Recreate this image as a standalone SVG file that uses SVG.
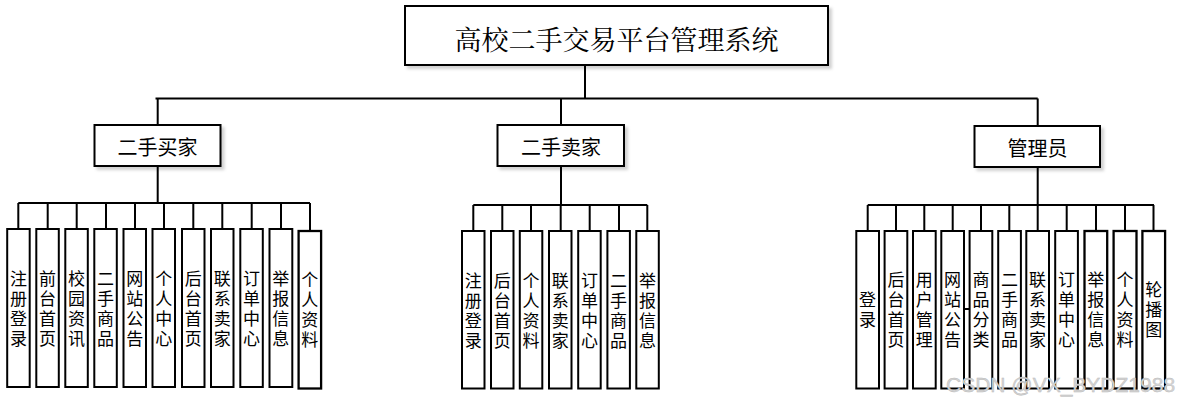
<svg xmlns="http://www.w3.org/2000/svg" width="1178" height="405" viewBox="0 0 1178 405">
<defs>
<filter id="sh" x="-10%" y="-10%" width="130%" height="140%">
<feDropShadow dx="3" dy="3" stdDeviation="1.5" flood-color="#000" flood-opacity="0.18"/>
</filter>
</defs>
<style>
.box{fill:#fff;stroke:#000;stroke-width:2}
.big{filter:url(#sh)}
.ln{stroke:#000;stroke-width:2;fill:none}
.t{font-family:"Noto Sans CJK SC","Liberation Sans",sans-serif;fill:#000;text-anchor:middle;dominant-baseline:central}
.title{font-family:"Noto Serif CJK SC","Noto Sans CJK SC",serif;font-size:27px}
.mid{font-size:20px}
.leaf{font-family:"Noto Sans CJK SC","Liberation Sans",sans-serif;fill:#000;font-size:17px;writing-mode:vertical-rl;letter-spacing:3px;text-anchor:middle}
.wm{font-family:"Liberation Sans","Noto Sans",sans-serif;font-size:21px;fill:#d4d4d4;stroke:#b8b8b8;stroke-width:0.4}
</style>
<rect width="1178" height="405" fill="#fff"/>
<g id="connectors">
<path class="ln" d="M585,65V98.5M155.5,98.5H1037.7M157.7,98.5V125M561,98.5V125M1037.7,98.5V126"/>
<path class="ln" d="M157.7,166V203M18.3,203H310M18.3,203V229M47.7,203V229M76.7,203V229M106,203V229M135,203V229M164,203V229M193.3,203V229M222.3,203V229M251.7,203V229M281,203V229M310,203V231"/>
<path class="ln" d="M561,166V205M473.3,205H647.3M473.3,205V231M502.3,205V231M531,205V231M560.7,205V231M589.7,205V231M619,205V231M647.3,205V231"/>
<path class="ln" d="M1037.7,167V205M867.7,205H1154M867.7,205V231M896,205V231M924.3,205V231M952.7,205V231M981,205V231M1009.3,205V231M1037.7,205V231M1066.7,205V231M1096,205V231M1125,205V231M1153.5,205V231M964,309H969"/>
</g>
<g id="root"><rect class="box big" x="405" y="6" width="423" height="59"/><text class="t title" x="616.5" y="38">高校二手交易平台管理系统</text></g>
<g id="buyer"><rect class="box big" x="94.5" y="125" width="126" height="41"/><text class="t mid" x="157.5" y="146">二手买家</text></g>
<g id="seller"><rect class="box big" x="497.5" y="125" width="126.5" height="41"/><text class="t mid" x="561" y="146">二手卖家</text></g>
<g id="admin"><rect class="box big" x="974.5" y="126" width="125.5" height="41"/><text class="t mid" x="1037.5" y="147">管理员</text></g>

<g id="b1"><rect class="box" x="7.2" y="229" width="22.5" height="158"/><text class="leaf" x="18.5" y="310">注册登录</text></g>
<g id="b2"><rect class="box" x="36.3" y="229" width="22.5" height="158"/><text class="leaf" x="47.5" y="310">前台首页</text></g>
<g id="b3"><rect class="box" x="65.3" y="229" width="22.5" height="158"/><text class="leaf" x="76.5" y="310">校园资讯</text></g>
<g id="b4"><rect class="box" x="94.3" y="229" width="22.5" height="158"/><text class="leaf" x="105.5" y="310">二手商品</text></g>
<g id="b5"><rect class="box" x="123.5" y="229" width="22.5" height="158"/><text class="leaf" x="134.7" y="310">网站公告</text></g>
<g id="b6"><rect class="box" x="152.5" y="229" width="22.5" height="158"/><text class="leaf" x="163.7" y="310">个人中心</text></g>
<g id="b7"><rect class="box" x="182" y="229" width="22.5" height="158"/><text class="leaf" x="193.2" y="310">后台首页</text></g>
<g id="b8"><rect class="box" x="211" y="229" width="22.5" height="158"/><text class="leaf" x="222.2" y="310">联系卖家</text></g>
<g id="b9"><rect class="box" x="240.3" y="229" width="22.5" height="158"/><text class="leaf" x="251.5" y="310">订单中心</text></g>
<g id="b10"><rect class="box" x="269.5" y="229" width="22.8" height="158"/><text class="leaf" x="280.8" y="310">举报信息</text></g>
<g id="b11"><rect class="box" x="298.6" y="231" width="22.5" height="157.5" style="stroke-width:2.3"/><text class="leaf" x="309.8" y="311">个人资料</text></g>

<g id="s1"><rect class="box" x="462" y="231" width="22.5" height="157.5"/><text class="leaf" x="473.2" y="312">注册登录</text></g>
<g id="s2"><rect class="box" x="491" y="231" width="22.5" height="157.5"/><text class="leaf" x="502.2" y="312">后台首页</text></g>
<g id="s3"><rect class="box" x="519.8" y="231" width="22.5" height="157.5"/><text class="leaf" x="531" y="312">个人资料</text></g>
<g id="s4"><rect class="box" x="549" y="231" width="22.5" height="157.5"/><text class="leaf" x="560.2" y="312">联系卖家</text></g>
<g id="s5"><rect class="box" x="578.2" y="231" width="22.5" height="157.5"/><text class="leaf" x="589.4" y="312">订单中心</text></g>
<g id="s6"><rect class="box" x="607.4" y="231" width="22.5" height="157.5"/><text class="leaf" x="618.6" y="312">二手商品</text></g>
<g id="s7"><rect class="box" x="636.3" y="231" width="22.5" height="157.5"/><text class="leaf" x="647.5" y="312">举报信息</text></g>

<g id="a1"><rect class="box" x="856.3" y="231" width="22.7" height="157.5"/><text class="leaf" x="867.6" y="311.5">登录</text></g>
<g id="a2"><rect class="box" x="884.6" y="231" width="22.7" height="157.5"/><text class="leaf" x="896" y="311">后台首页</text></g>
<g id="a3"><rect class="box" x="913" y="231" width="22.7" height="157.5"/><text class="leaf" x="924.3" y="311">用户管理</text></g>
<g id="a4"><rect class="box" x="941.3" y="231" width="22.7" height="157.5"/><text class="leaf" x="952.6" y="311">网站公告</text></g>
<g id="a5"><rect class="box" x="969.6" y="231" width="22.7" height="157.5"/><text class="leaf" x="981" y="311">商品分类</text></g>
<g id="a6"><rect class="box" x="998.2" y="231" width="22.7" height="157.5"/><text class="leaf" x="1009.5" y="311">二手商品</text></g>
<g id="a7"><rect class="box" x="1026.3" y="231" width="22.7" height="157.5"/><text class="leaf" x="1037.6" y="311">联系卖家</text></g>
<g id="a8"><rect class="box" x="1055.2" y="231" width="22.7" height="157.5"/><text class="leaf" x="1066.5" y="311">订单中心</text></g>
<g id="a9"><rect class="box" x="1084.5" y="231" width="22.7" height="157.5" style="stroke-width:2.3"/><text class="leaf" x="1095.8" y="311">举报信息</text></g>
<g id="a10"><rect class="box" x="1113.6" y="231" width="22.9" height="157.5" style="stroke-width:2.3"/><text class="leaf" x="1125" y="311">个人资料</text></g>
<g id="a11"><rect class="box" x="1142.4" y="231" width="22.7" height="157.5" style="stroke-width:2.3"/><text class="leaf" x="1153.8" y="311">轮播图</text></g>

<text class="wm" x="946" y="392">CSDN @VX_BYDZ1988</text>
</svg>
